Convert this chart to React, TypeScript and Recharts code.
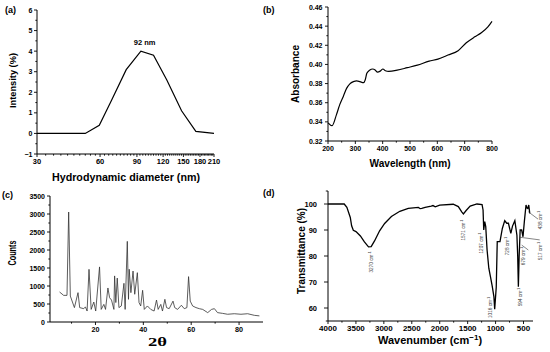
import React from 'react';
import { LineChart, Line, XAxis, YAxis, ReferenceDot, ReferenceLine } from 'recharts';

// (a) DLS – size distribution
const dlsDiameter = [30, 51, 59.5, 68, 80, 94, 108, 125, 147, 172, 210];
const dlsIntensity = [0, 0, 0.4, 1.6, 3.1, 4.0, 3.8, 2.6, 1.1, 0.1, 0];
const dlsXTicks = [30, 60, 90, 120, 150, 180, 210];
const dlsYTicks = [-1, 0, 1, 2, 3, 4, 5, 6];

// (b) UV-vis
const uvWavelength = [200, 215, 231, 243, 256, 268, 280, 293, 305, 317, 330, 336, 342, 352, 364, 373, 381, 391, 401, 410, 422, 453, 490, 527, 570, 602, 639, 676, 706, 737, 761, 785, 800];
const uvAbsorbance = [0.339, 0.336, 0.3476, 0.358, 0.3666, 0.375, 0.3797, 0.382, 0.3828, 0.382, 0.381, 0.3838, 0.3907, 0.394, 0.3952, 0.394, 0.392, 0.393, 0.3952, 0.3934, 0.3928, 0.394, 0.3966, 0.3993, 0.4034, 0.4056, 0.4098, 0.4143, 0.4226, 0.4288, 0.433, 0.4392, 0.445];
const uvXTicks = [200, 300, 400, 500, 600, 700, 800];
const uvYTicks = [0.32, 0.34, 0.36, 0.38, 0.4, 0.42, 0.44, 0.46];

// (c) XRD
const xrdTheta = [5.0, 6.7, 8.1, 8.8, 9.5, 11.2, 12.7, 13.4, 15.1, 15.8, 16.5, 17.3, 18.2, 19.3, 20.1, 21.7, 22.4, 23.5, 24.2, 25.2, 25.9, 26.7, 27.7, 28.0, 28.5, 29.1, 29.8, 30.8, 31.9, 32.4, 33.3, 33.8, 34.1, 34.8, 35.7, 36.4, 37.5, 38.2, 38.9, 39.7, 40.4, 41.7, 43.1, 44.5, 45.5, 46.2, 47.3, 48.0, 49.0, 49.7, 50.8, 52.4, 53.1, 54.3, 55.9, 57.1, 58.2, 58.9, 59.6, 60.6, 62.0, 63.4, 64.8, 66.9, 68.5, 69.7, 71.0, 73.1, 75.2, 78.0, 80.8, 83.6, 86.4, 88.5];
const xrdCounts = [833, 740, 740, 3055, 720, 400, 815, 400, 370, 420, 305, 1463, 350, 555, 305, 1530, 350, 490, 350, 945, 675, 610, 350, 1280, 540, 1220, 400, 445, 1075, 350, 2240, 630, 1465, 815, 1415, 770, 1370, 540, 445, 880, 350, 445, 350, 305, 610, 350, 490, 305, 630, 400, 370, 580, 400, 350, 465, 370, 400, 1260, 580, 445, 400, 370, 350, 260, 350, 370, 260, 240, 215, 230, 215, 230, 185, 170];
const xrdXTicks = [20, 40, 60, 80];
const xrdYTicks = [0, 500, 1000, 1500, 2000, 2500, 3000, 3500];

// (d) FTIR
const ftirWavenumber = [4000, 3710, 3662, 3601, 3577, 3547, 3499, 3420, 3348, 3275, 3227, 3167, 3076, 2986, 2865, 2714, 2563, 2382, 2350, 2321, 2261, 2152, 2121, 2080, 2000, 1758, 1667, 1606, 1576, 1527, 1455, 1333, 1242, 1224, 1212, 1194, 1176, 1152, 1121, 1091, 1061, 1030, 1016, 988, 970, 921, 879, 836, 800, 770, 727, 697, 655, 618, 604, 592, 578, 560, 533, 509, 485, 455, 440, 424, 406, 388];
const ftirTransmittance = [100, 100, 98.7, 94.8, 91.6, 89.9, 89.4, 87.7, 85.4, 83.5, 83.6, 85.8, 89.7, 92.5, 95.2, 97.2, 98.3, 98.7, 98.2, 98.3, 98.7, 99.2, 99.4, 98.9, 99.6, 99.9, 99, 97, 96.2, 97.5, 99.2, 100, 99.8, 97.7, 90, 93.2, 91.3, 82.3, 75.3, 72, 68.5, 64.4, 59.5, 68, 85.5, 85.5, 90.6, 93.6, 92.6, 92.6, 88.7, 91.5, 93.6, 88, 80, 68.2, 80, 90, 90, 87.4, 93.2, 99.6, 98.5, 98.3, 99.6, 96.4];
const ftirXTicks = [4000, 3500, 3000, 2500, 2000, 1500, 1000, 500];
const ftirYTicks = [60, 70, 80, 90, 100];
const ftirPeaks = ['3270', '1571', '1207', '1016', '728', '594', '679', '517', '438'];

// where each peak label sits (data coords)
const ftirLabelPos = [
  [3230, 77.7], [1583, 90], [1261, 85], [1100, 60.2], [796, 83.8],
  [554, 64.2], [500, 80], [196, 81.9], [196, 93.8],
];

const FONT = '"Liberation Sans", Arial, sans-serif';

const zip = (xs: number[], ys: number[]) => xs.map((x, i) => ({ x, y: ys[i] }));

const subdivide = (major: number[], parts: number) => {
  const out: number[] = [];
  for (let i = 0; i < major.length - 1; i++) {
    const a = major[i];
    const b = major[i + 1];
    for (let k = 0; k < parts; k++) out.push(+(a + ((b - a) * k) / parts).toFixed(6));
  }
  out.push(major[major.length - 1]);
  return out;
};

type TickOpts = { fs: number; len?: number; gap?: number };

function makeTick(side: 'bottom' | 'left', major: number[], fmt: (v: number) => string, opts: TickOpts) {
  const { fs, len = 3, gap = 1.5 } = opts;
  return (props: any) => {
    const { x, y, payload } = props;
    const v = payload.value;
    const isMajor = major.some((m) => Math.abs(m - v) < 1e-6);
    const l = isMajor ? len : len * 0.55;
    if (side === 'bottom') {
      return (
        <g>
          <line x1={x} x2={x} y1={y} y2={y + l} stroke="#000" strokeWidth={0.9} />
          {isMajor && (
            <text x={x} y={y + len + gap + fs * 0.72} textAnchor="middle" fontFamily={FONT} fontWeight="bold" fontSize={fs} fill="#000">
              {fmt(v)}
            </text>
          )}
        </g>
      );
    }
    return (
      <g>
        <line x1={x - l} x2={x} y1={y} y2={y} stroke="#000" strokeWidth={0.9} />
        {isMajor && (
          <text x={x - len - gap} y={y + fs * 0.36} textAnchor="end" fontFamily={FONT} fontWeight="bold" fontSize={fs} fill="#000">
            {fmt(v)}
          </text>
        )}
      </g>
    );
  };
}

const fmtInt = (v: number) => (v < 0 ? '\u2212' + Math.abs(v) : String(v));
const fmt2 = (v: number) => v.toFixed(2);

const axisProps = {
  tickLine: false,
  tickSize: 0,
  tickMargin: 0,
  interval: 0 as const,
  axisLine: { stroke: '#000', strokeWidth: 1 },
};

const TextLabel = (props: any) => {
  const { viewBox, text } = props;
  const cx = viewBox.x + (viewBox.width || 0) / 2;
  const cy = viewBox.y + (viewBox.height || 0) / 2;
  return (
    <text x={cx} y={cy + 2.7} textAnchor="middle" fontFamily={FONT} fontWeight="bold" fontSize={7.5} fill="#000">
      {text}
    </text>
  );
};

const PeakLabel = (props: any) => {
  const { viewBox, text } = props;
  const cx = viewBox.x + (viewBox.width || 0) / 2;
  const cy = viewBox.y + (viewBox.height || 0) / 2;
  return (
    <text x={cx} y={cy + 1.6} transform={`rotate(-90 ${cx} ${cy})`} textAnchor="middle" fontFamily={FONT} fontSize={4.7} fill="#444">
      {text} cm<tspan fontSize={3.4} dy={-1.7}>-1</tspan>
    </text>
  );
};

function PanelA() {
  return (
    <div style={{ position: 'absolute', left: 0, top: 0 }}>
      <LineChart width={275} height={190} data={zip(dlsDiameter, dlsIntensity)} margin={{ top: 10, right: 61, bottom: 0, left: 0 }}>
        <XAxis {...axisProps} dataKey="x" type="number" scale="log" domain={[30, 210]} allowDataOverflow ticks={subdivide(dlsXTicks, 10)} tick={makeTick('bottom', dlsXTicks, fmtInt, { fs: 7.5 })} height={36} />
        <YAxis {...axisProps} type="number" domain={[-1, 6]} ticks={subdivide(dlsYTicks, 2)} tick={makeTick('left', dlsYTicks, fmtInt, { fs: 7 })} width={37} />
        <Line dataKey="y" type="linear" stroke="#000" strokeWidth={1.2} dot={false} isAnimationActive={false} />
        <ReferenceDot x={98} y={4.45} r={0} fill="none" stroke="none" ifOverflow="visible" label={<TextLabel text="92 nm" />} />
      </LineChart>
    </div>
  );
}

function PanelB() {
  return (
    <div style={{ position: 'absolute', left: 275, top: 0 }}>
      <LineChart width={275} height={190} data={zip(uvWavelength, uvAbsorbance)} margin={{ top: 7, right: 58, bottom: 0, left: 0 }}>
        <XAxis {...axisProps} dataKey="x" type="number" domain={[200, 800]} ticks={subdivide(uvXTicks, 2)} tick={makeTick('bottom', uvXTicks, fmtInt, { fs: 7 })} height={49} />
        <YAxis {...axisProps} type="number" domain={[0.32, 0.46]} ticks={subdivide(uvYTicks, 2)} tick={makeTick('left', uvYTicks, fmt2, { fs: 7, gap: 2.5 })} width={53} />
        <Line dataKey="y" type="monotone" stroke="#000" strokeWidth={1.2} dot={false} isAnimationActive={false} />
      </LineChart>
    </div>
  );
}

function PanelC() {
  return (
    <div style={{ position: 'absolute', left: 0, top: 176 }}>
      <LineChart width={275} height={176} data={zip(xrdTheta, xrdCounts)} margin={{ top: 20, right: 12, bottom: 0, left: 0 }}>
        <XAxis {...axisProps} dataKey="x" type="number" domain={[1, 90]} ticks={[10, ...subdivide(xrdXTicks, 2)]} tick={makeTick('bottom', xrdXTicks, fmtInt, { fs: 7.2 })} height={30} />
        <YAxis {...axisProps} type="number" domain={[0, 3500]} ticks={subdivide(xrdYTicks, 2)} tick={makeTick('left', xrdYTicks, fmtInt, { fs: 7, gap: 2 })} width={50} />
        <Line dataKey="y" type="linear" stroke="#333" strokeWidth={0.8} dot={false} isAnimationActive={false} />
      </LineChart>
    </div>
  );
}

function PanelD() {
  return (
    <div style={{ position: 'absolute', left: 275, top: 176 }}>
      <LineChart width={275} height={176} data={zip(ftirWavenumber, ftirTransmittance)} margin={{ top: 15, right: 17, bottom: 0, left: 0 }}>
        <XAxis {...axisProps} dataKey="x" type="number" reversed domain={[330, 4000]} ticks={subdivide(ftirXTicks, 2)} tick={makeTick('bottom', ftirXTicks, fmtInt, { fs: 8, gap: 1 })} height={31} />
        <YAxis {...axisProps} type="number" domain={[55, 105]} ticks={subdivide([55, ...ftirYTicks, 105], 1)} tick={makeTick('left', ftirYTicks, fmtInt, { fs: 7.5, len: 4, gap: 7 })} width={53} />
        <Line dataKey="y" type="linear" stroke="#000" strokeWidth={1.3} dot={false} isAnimationActive={false} />
        <ReferenceLine segment={[{ x: 562, y: 87.2 }, { x: 210, y: 86.2 }]} ifOverflow="visible" stroke="#333" strokeWidth={0.6} />
        <ReferenceLine segment={[{ x: 532, y: 84.2 }, { x: 414, y: 82.3 }]} ifOverflow="visible" stroke="#333" strokeWidth={0.6} />
        <ReferenceLine segment={[{ x: 414, y: 97.0 }, { x: 240, y: 94.2 }]} ifOverflow="visible" stroke="#333" strokeWidth={0.6} />
        {ftirPeaks.map((p, i) => (
          <ReferenceDot key={p} x={ftirLabelPos[i][0]} y={ftirLabelPos[i][1]} r={0} fill="none" stroke="none" ifOverflow="visible" label={<PeakLabel text={p} />} />
        ))}
      </LineChart>
    </div>
  );
}

function Titles() {
  const t = { fontFamily: FONT, fontWeight: 'bold' as const, fill: '#000' };
  return (
    <svg width={550} height={352} style={{ position: 'absolute', left: 0, top: 0, pointerEvents: 'none' }}>
      <text x={5} y={12.5} fontSize={9} {...t}>(a)</text>
      <text x={263} y={13} fontSize={9} {...t}>(b)</text>
      <text x={2} y={198} fontSize={9} {...t}>(c)</text>
      <text x={263} y={196} fontSize={9} {...t}>(d)</text>

      <text x={126} y={181} fontSize={10.5} textAnchor="middle" textLength={148} lengthAdjust="spacingAndGlyphs" {...t}>Hydrodynamic diameter (nm)</text>
      <text x={16.3} y={80.5} transform="rotate(-90 16.3 80.5)" fontSize={9.8} textAnchor="middle" textLength={55} lengthAdjust="spacingAndGlyphs" {...t}>Intensity (%)</text>

      <text x={410} y={166.5} fontSize={10} textAnchor="middle" textLength={81} lengthAdjust="spacingAndGlyphs" {...t}>Wavelength (nm)</text>
      <text x={299} y={74} transform="rotate(-90 299 74)" fontSize={10} textAnchor="middle" textLength={58} lengthAdjust="spacingAndGlyphs" {...t}>Absorbance</text>

      <text x={15.5} y={253} transform="rotate(-90 15.5 253)" fontSize={10.5} textAnchor="middle" textLength={25} lengthAdjust="spacingAndGlyphs" {...t}>Counts</text>
      <text x={157.5} y={346} fontSize={12.5} textAnchor="middle" fontFamily='"Liberation Serif", serif' fontWeight="bold" textLength={19} lengthAdjust="spacingAndGlyphs">2θ</text>

      <text x={305} y={251} transform="rotate(-90 305 251)" fontSize={10.5} textAnchor="middle" textLength={86} lengthAdjust="spacingAndGlyphs" {...t}>Transmittance (%)</text>
      <text x={430} y={344} fontSize={11} textAnchor="middle" {...t}>
        Wavenumber (cm<tspan fontSize={8} dy={-4}>−1</tspan><tspan dy={4}>)</tspan>
      </text>
    </svg>
  );
}

export default function App() {
  return (
    <div style={{ position: 'absolute', left: 0, top: 0, width: 550, height: 352, background: '#fff', overflow: 'hidden' }}>
      <PanelA />
      <PanelB />
      <PanelC />
      <PanelD />
      <Titles />
    </div>
  );
}
